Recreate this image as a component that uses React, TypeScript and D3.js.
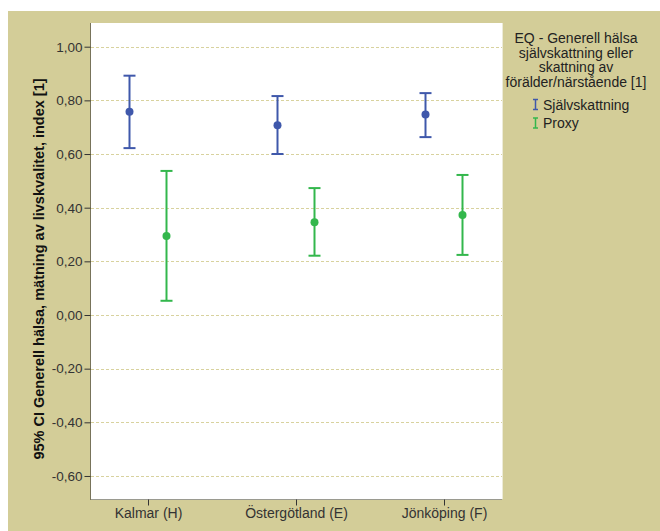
import { useRef, useEffect } from "react";
import * as d3 from "d3";

// regioner och värden (medel, nedre och övre gräns för 95% KI)
const regions = ["Kalmar (H)", "Östergötland (E)", "Jönköping (F)"];
const seriesNames = ["Självskattning", "Proxy"];
const selfMean = [0.758, 0.707, 0.747];
const selfLow = [0.622, 0.6, 0.663];
const selfHigh = [0.892, 0.816, 0.827];
const proxyMean = [0.294, 0.346, 0.373];
const proxyLow = [0.053, 0.221, 0.224];
const proxyHigh = [0.537, 0.473, 0.522];
const yTicks = [1.0, 0.8, 0.6, 0.4, 0.2, 0.0, -0.2, -0.4, -0.6];
const legendTitle = ["EQ - Generell hälsa", "självskattning eller", "skattning av", "förälder/närstående [1]"];

const colors = ["#3f58ab", "#33b74c"];

const App = () => {
  const svgRef = useRef<SVGSVGElement>(null);

  useEffect(() => {
    const svg = d3.select(svgRef.current);
    svg.selectAll("*").remove();

    const width = 660;
    const height = 531;
    const plot = { left: 91, top: 23, right: 502, bottom: 499 };
    const font = "Arial, 'Liberation Sans', sans-serif";

    // bakgrund
    svg.append("rect").attr("x", 0).attr("y", 0).attr("width", width).attr("height", height).attr("fill", "#ffffff");
    svg.append("rect").attr("x", 8).attr("y", 11).attr("width", width - 8).attr("height", height - 11).attr("fill", "#d3cd98");
    svg
      .append("rect")
      .attr("x", plot.left)
      .attr("y", plot.top)
      .attr("width", plot.right - plot.left)
      .attr("height", plot.bottom - plot.top)
      .attr("fill", "#ffffff");

    // skalor
    const yScale = d3.scaleLinear().domain([0, 1]).range([315, 46.7]);
    const xScale = d3
      .scalePoint<string>()
      .domain(regions)
      .range([148, 444]);
    const offset = d3.scalePoint<string>().domain(seriesNames).range([-18.5, 18.5]);

    // stödlinjer
    svg
      .append("g")
      .selectAll("line")
      .data(yTicks)
      .enter()
      .append("line")
      .attr("x1", plot.left)
      .attr("x2", plot.right)
      .attr("y1", (d) => Math.round(yScale(d)) + 0.5)
      .attr("y2", (d) => Math.round(yScale(d)) + 0.5)
      .attr("stroke", "#d8d29e")
      .attr("stroke-width", 1)
      .attr("stroke-dasharray", "3,2");

    // ramar
    svg
      .append("line")
      .attr("x1", plot.left - 0.5)
      .attr("x2", plot.left - 0.5)
      .attr("y1", plot.top)
      .attr("y2", plot.bottom + 1)
      .attr("stroke", "#77735a")
      .attr("stroke-width", 1);
    svg
      .append("line")
      .attr("x1", plot.left)
      .attr("x2", plot.right)
      .attr("y1", plot.bottom + 0.5)
      .attr("y2", plot.bottom + 0.5)
      .attr("stroke", "#9a9a90")
      .attr("stroke-width", 1);
    svg
      .append("line")
      .attr("x1", plot.right + 0.5)
      .attr("x2", plot.right + 0.5)
      .attr("y1", plot.top)
      .attr("y2", plot.bottom)
      .attr("stroke", "#ecebd8")
      .attr("stroke-width", 1);

    // y-axel
    const yAxis = d3
      .axisLeft(yScale)
      .tickValues(yTicks)
      .tickSize(6)
      .tickPadding(2)
      .tickFormat((d) => d3.format(".2f")(d as number).replace(".", ",").replace("−", "-"));
    const yg = svg.append("g").attr("transform", `translate(${plot.left - 0.5},0)`).call(yAxis);
    yg.select(".domain").remove();
    yg.selectAll(".tick line").attr("stroke", "#333");
    yg.selectAll(".tick text").attr("fill", "#333").attr("font-family", font).attr("font-size", 13.5);

    // x-axel
    const xAxis = d3.axisBottom(xScale).tickSize(6).tickPadding(3);
    const xg = svg.append("g").attr("transform", `translate(0,${plot.bottom + 0.5})`).call(xAxis);
    xg.select(".domain").remove();
    xg.selectAll(".tick line").attr("stroke", "#333");
    xg.selectAll(".tick text").attr("fill", "#333").attr("font-family", font).attr("font-size", 14);

    // y-axelns titel
    svg
      .append("text")
      .attr("transform", `translate(44,${(plot.top + plot.bottom) / 2 + 8}) rotate(-90)`)
      .attr("text-anchor", "middle")
      .attr("font-family", font)
      .attr("font-size", 14.5)
      .attr("font-weight", "bold")
      .attr("fill", "#111")
      .text("95% CI Generell hälsa, mätning av livskvalitet, index [1]");

    // felstaplar
    const series = [
      { name: seriesNames[0], mean: selfMean, low: selfLow, high: selfHigh, color: colors[0] },
      { name: seriesNames[1], mean: proxyMean, low: proxyLow, high: proxyHigh, color: colors[1] },
    ];
    series.forEach((s) => {
      const g = svg.append("g");
      regions.forEach((r, i) => {
        const cx = (xScale(r) as number) + (offset(s.name) as number);
        g.append("line")
          .attr("x1", cx)
          .attr("x2", cx)
          .attr("y1", yScale(s.low[i]))
          .attr("y2", yScale(s.high[i]))
          .attr("stroke", s.color)
          .attr("stroke-width", 2);
        [s.low[i], s.high[i]].forEach((v) => {
          g.append("line")
            .attr("x1", cx - 6)
            .attr("x2", cx + 6)
            .attr("y1", yScale(v))
            .attr("y2", yScale(v))
            .attr("stroke", s.color)
            .attr("stroke-width", 2);
        });
        g.append("circle").attr("cx", cx).attr("cy", yScale(s.mean[i])).attr("r", 4).attr("fill", s.color);
      });
    });

    // legend
    const legend = svg.append("g");
    legendTitle.forEach((t, i) => {
      legend
        .append("text")
        .attr("x", 576)
        .attr("y", 43 + i * 14.7)
        .attr("text-anchor", "middle")
        .attr("font-family", font)
        .attr("font-size", 14)
        .attr("fill", "#222")
        .text(t);
    });
    series.forEach((s, i) => {
      const y = 104.5 + i * 18.5;
      const lg = legend.append("g");
      lg.append("line").attr("x1", 535.5).attr("x2", 535.5).attr("y1", y - 5).attr("y2", y + 5).attr("stroke", s.color).attr("stroke-width", 1.5);
      lg.append("line").attr("x1", 533).attr("x2", 538).attr("y1", y - 5).attr("y2", y - 5).attr("stroke", s.color).attr("stroke-width", 1.5);
      lg.append("line").attr("x1", 533).attr("x2", 538).attr("y1", y + 5).attr("y2", y + 5).attr("stroke", s.color).attr("stroke-width", 1.5);
      lg.append("text")
        .attr("x", 543)
        .attr("y", y + 5)
        .attr("font-family", font)
        .attr("font-size", 14)
        .attr("fill", "#222")
        .text(s.name);
    });
  }, []);

  return (
    <svg
      ref={svgRef}
      width={660}
      height={531}
      style={{ position: "absolute", left: 0, top: 0, display: "block" }}
    ></svg>
  );
};

export default App;
